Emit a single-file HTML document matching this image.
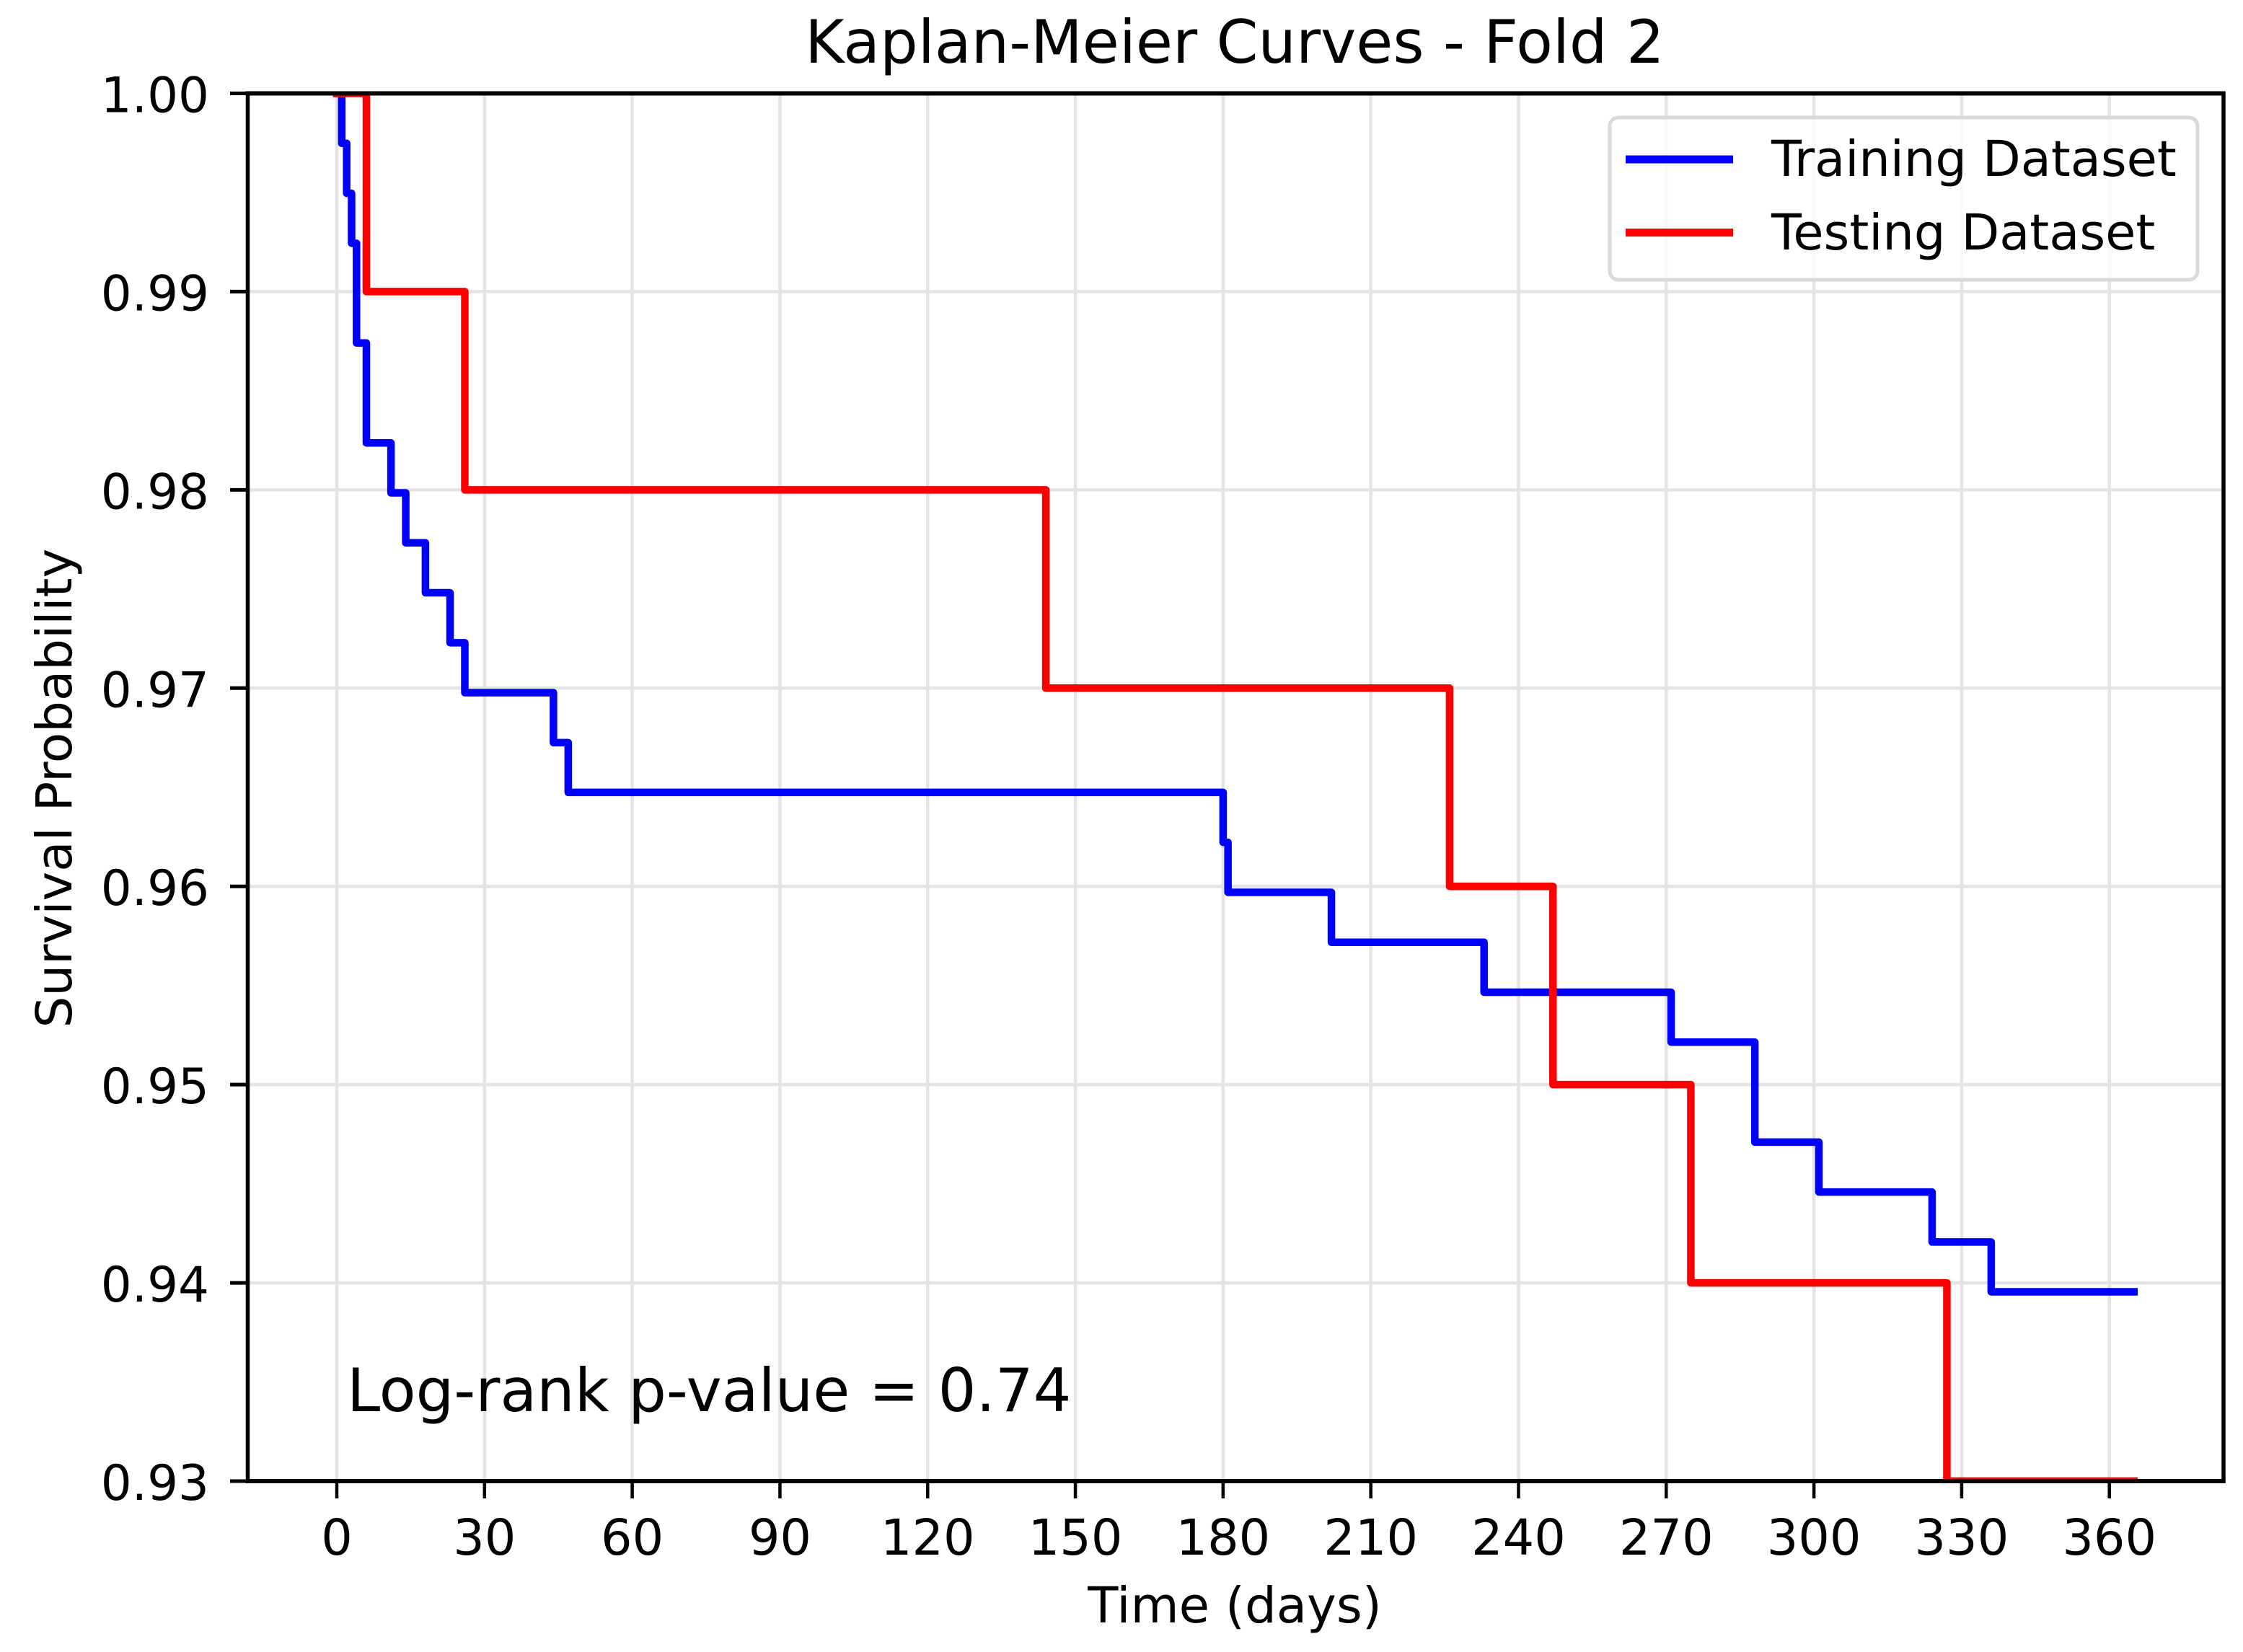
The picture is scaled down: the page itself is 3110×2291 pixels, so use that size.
<!DOCTYPE html>
<html>
<head>
<meta charset="utf-8">
<title>Kaplan-Meier Curves - Fold 2</title>
<style>
html,body{margin:0;padding:0;background:#fff;width:3110px;height:2291px;overflow:hidden}
svg{display:block;position:absolute;left:0;top:0}
text{font-family:"DejaVu Sans","Liberation Sans",sans-serif;fill:#000}
</style>
</head>
<body>
<svg id="chart" xmlns="http://www.w3.org/2000/svg" width="3110" height="2291" viewBox="0 0 3110 2291">
  <defs>
    <clipPath id="plot-clip"><rect x="343.5" y="129.5" width="2739.5" height="1924.5"/></clipPath>
  </defs>
  <rect x="0" y="0" width="3110" height="2291" fill="#ffffff"/>
  <g id="grid"></g>
  <g id="curves" clip-path="url(#plot-clip)"></g>
  <g id="ticks"></g>
  <line x1="343.5" y1="126.5" x2="343.5" y2="2057" stroke="#000" stroke-width="5.5"/>
  <line x1="3083" y1="126.5" x2="3083" y2="2057" stroke="#000" stroke-width="5.5"/>
  <line x1="341" y1="129.5" x2="3085.5" y2="129.5" stroke="#000" stroke-width="6"/>
  <line x1="341" y1="2054" x2="3085.5" y2="2054" stroke="#000" stroke-width="6"/>
  <text x="1712" y="87" font-size="83" text-anchor="middle">Kaplan-Meier Curves - Fold 2</text>
  <text x="1712" y="2250" font-size="69" text-anchor="middle">Time (days)</text>
  <text x="0" y="0" font-size="69" text-anchor="middle" transform="translate(99 1093) rotate(-90)">Survival Probability</text>
  <text x="481" y="1957" font-size="83">Log-rank p-value = 0.74</text>
  <g>
    <rect x="2232" y="163" width="815" height="225" rx="12" ry="12" fill="#ffffff" fill-opacity="0.8" stroke="#d9d9d9" stroke-width="5"/>
    <line x1="2254" y1="221" x2="2403" y2="221" stroke="#0000ff" stroke-width="11"/>
    <text x="2456" y="244" font-size="68.7">Training Dataset</text>
    <line x1="2254" y1="322.5" x2="2403" y2="322.5" stroke="#ff0000" stroke-width="11"/>
    <text x="2456" y="346" font-size="68.7">Testing Dataset</text>
  </g>
</svg>
<script>
var xTickValues = [0, 30, 60, 90, 120, 150, 180, 210, 240, 270, 300, 330, 360];
var yTickValues = [1.00, 0.99, 0.98, 0.97, 0.96, 0.95, 0.94, 0.93];
var yTickLabels = ["1.00", "0.99", "0.98", "0.97", "0.96", "0.95", "0.94", "0.93"];

var trainingTimes = [0, 1, 2, 3, 4, 6, 11, 14, 18, 23, 26, 44, 47, 180, 181, 202, 233, 271, 288, 301, 324, 336, 365];
var trainingSurvival = [1.0, 0.99748, 0.99496, 0.99244, 0.98741, 0.98237, 0.97985, 0.97733, 0.97481, 0.97229, 0.96977, 0.96725, 0.96474, 0.96222, 0.9597, 0.95718, 0.95466, 0.95214, 0.9471, 0.94458, 0.94206, 0.93955, 0.93955];

var testingTimes = [0, 6, 26, 144, 226, 247, 275, 327, 365];
var testingSurvival = [1.0, 0.99, 0.98, 0.97, 0.96, 0.95, 0.94, 0.93, 0.93];

var SVG_NS = "http://www.w3.org/2000/svg";
var plotTop = 129.5, plotBottom = 2054, x0 = 467, pxPerDay = 6.827;

function xScale(t) { return x0 + t * pxPerDay; }
function yScale(s) { return plotTop + (1 - s) / 0.07 * (plotBottom - plotTop); }

function make(tag, attrs) {
  var el = document.createElementNS(SVG_NS, tag);
  for (var k in attrs) el.setAttribute(k, attrs[k]);
  return el;
}

var gridG = document.getElementById("grid");
var ticksG = document.getElementById("ticks");
var curvesG = document.getElementById("curves");

xTickValues.forEach(function (v) {
  var x = xScale(v);
  var g = make("line", { x1: x, y1: plotTop, x2: x, y2: plotBottom, stroke: "#e4e4e4", "stroke-width": 4.5 });
  
  
  gridG.appendChild(g);
  var t = make("line", { x1: x, y1: plotBottom, x2: x, y2: plotBottom + 24, stroke: "#000", "stroke-width": 4.5 });
  
  
  ticksG.appendChild(t);
  var l = make("text", { x: x, y: 2156, "font-size": 68.5, "text-anchor": "middle" });
  
  
  l.textContent = String(v);
  ticksG.appendChild(l);
});

yTickValues.forEach(function (v, i) {
  var y = yScale(v);
  if (i > 0 && i < yTickValues.length - 1) {
    var g = make("line", { x1: 343.5, y1: y, x2: 3083, y2: y, stroke: "#e4e4e4", "stroke-width": 4.5 });
    
    
    gridG.appendChild(g);
  }
  var t = make("line", { x1: 319, y1: y, x2: 343.5, y2: y, stroke: "#000", "stroke-width": 5 });
  
  
  ticksG.appendChild(t);
  var l = make("text", { x: 290, y: y + 26, "font-size": 67.5, "text-anchor": "end" });
  
  
  l.textContent = yTickLabels[i];
  ticksG.appendChild(l);
});

function stepPoints(times, values) {
  var pts = [];
  times.forEach(function (t, i) {
    if (i > 0) pts.push(xScale(t) + "," + yScale(values[i - 1]));
    pts.push(xScale(t) + "," + yScale(values[i]));
  });
  return pts.join(" ");
}

var trainingLine = make("polyline", {
  points: stepPoints(trainingTimes, trainingSurvival),
  fill: "none", stroke: "#0000ff", "stroke-width": 10.5,
  "stroke-linejoin": "round", "stroke-linecap": "square"
});


curvesG.appendChild(trainingLine);

var testingLine = make("polyline", {
  points: stepPoints(testingTimes, testingSurvival),
  fill: "none", stroke: "#ff0000", "stroke-width": 10.5,
  "stroke-linejoin": "round", "stroke-linecap": "square"
});


curvesG.appendChild(testingLine);
</script>
</body>
</html>
